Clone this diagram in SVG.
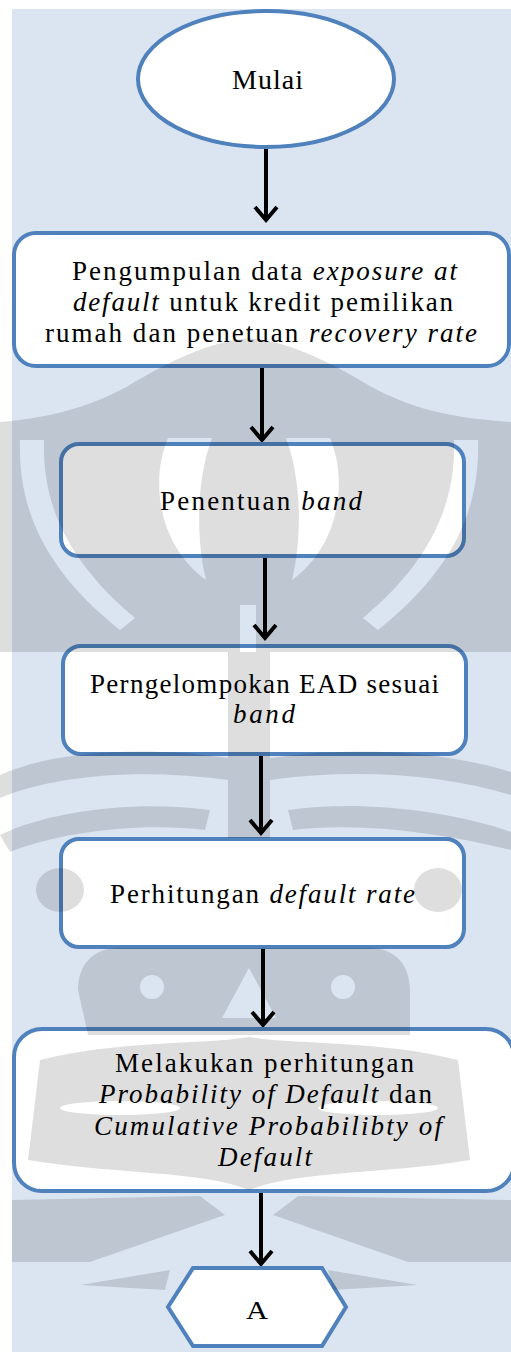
<svg xmlns="http://www.w3.org/2000/svg" width="511" height="1352" viewBox="0 0 511 1352">
  <style>
    .node { fill: #ffffff; stroke: #4f81bd; stroke-width: 4; }
    .t { font-family: "Liberation Serif", serif; font-size: 27px; fill: #000000; }
    .i { font-style: italic; }
    .conn { stroke: #000000; stroke-width: 4; fill: none; }
    .wm { fill: #000000; fill-opacity: 0.13; fill-rule: evenodd; stroke: none; }
  </style>
  <defs>
    <marker id="arrow" markerUnits="userSpaceOnUse" markerWidth="40" markerHeight="40" viewBox="-20 -20 40 40" refX="0" refY="0" orient="auto" overflow="visible">
      <path d="M -13,-11 L 0,0 L -13,11" fill="none" stroke="#000000" stroke-width="4" stroke-linejoin="miter"/>
    </marker>
  </defs>
  <rect x="0" y="0" width="511" height="1352" fill="#ffffff"/>
  <rect x="12" y="9" width="499" height="1343" fill="#dbe5f1"/>

  <g id="connectors">
    <line class="conn" x1="266" y1="147" x2="266" y2="220" marker-end="url(#arrow)"/>
    <line class="conn" x1="262" y1="367" x2="262" y2="440" marker-end="url(#arrow)"/>
    <line class="conn" x1="265" y1="557" x2="265" y2="638" marker-end="url(#arrow)"/>
    <line class="conn" x1="261" y1="755" x2="261" y2="833" marker-end="url(#arrow)"/>
    <line class="conn" x1="263" y1="948" x2="263" y2="1025" marker-end="url(#arrow)"/>
    <line class="conn" x1="261" y1="1192" x2="261" y2="1264" marker-end="url(#arrow)"/>
  </g>

  <g id="mulai">
    <ellipse class="node" cx="266" cy="79" rx="128" ry="68"/>
    <text class="t" x="232" y="89" style="font-size:28px" textLength="71" lengthAdjust="spacing">Mulai</text>
  </g>

  <g id="pengumpulan">
    <rect class="node" x="14" y="233" width="495" height="133" rx="22"/>
    <text class="t" x="72" y="280" textLength="385" lengthAdjust="spacing">Pengumpulan data <tspan class="i">exposure at</tspan></text>
    <text class="t" x="73" y="311" textLength="380" lengthAdjust="spacing"><tspan class="i">default</tspan> untuk kredit pemilikan</text>
    <text class="t" x="45" y="342" textLength="432" lengthAdjust="spacing">rumah dan penetuan <tspan class="i">recovery rate</tspan></text>
  </g>

  <g id="penentuan-band">
    <rect class="node" x="61" y="444" width="403" height="112" rx="18"/>
    <text class="t" x="160" y="510" textLength="202" lengthAdjust="spacing">Penentuan <tspan class="i">band</tspan></text>
  </g>

  <g id="pengelompokan">
    <rect class="node" x="63" y="646" width="403" height="108" rx="18"/>
    <text class="t" x="90" y="693" textLength="349" lengthAdjust="spacing">Perngelompokan EAD sesuai</text>
    <text class="t i" x="233" y="723" textLength="62" lengthAdjust="spacing">band</text>
  </g>

  <g id="default-rate">
    <rect class="node" x="61" y="839" width="403" height="108" rx="18"/>
    <text class="t" x="110" y="903" textLength="305" lengthAdjust="spacing">Perhitungan <tspan class="i">default rate</tspan></text>
  </g>

  <g id="probability">
    <rect class="node" x="14" y="1029" width="500" height="162" rx="28"/>
    <text class="t" x="115" y="1072" textLength="299" lengthAdjust="spacing">Melakukan perhitungan</text>
    <text class="t" x="99" y="1103" textLength="333" lengthAdjust="spacing"><tspan class="i">Probability of Default</tspan> dan</text>
    <text class="t i" x="94" y="1135" textLength="348" lengthAdjust="spacing">Cumulative Probabilibty of</text>
    <text class="t i" x="218" y="1166" textLength="94" lengthAdjust="spacing">Default</text>
  </g>

  <g id="connector-a">
    <polygon class="node" points="193,1268 322,1268 346,1307 322,1346 193,1346 168,1307"/>
    <text class="t" x="246" y="1319" style="font-size:25px" textLength="22" lengthAdjust="spacingAndGlyphs">A</text>
  </g>

  <g id="watermark">
    <path class="wm" d="M 249 338 C 290 342 330 362 370 386 C 410 408 450 418 511 422 L 511 652 L 0 652 L 0 422 C 48 418 88 408 128 386 C 168 362 208 342 249 338 Z
      M 20 440 C 18 510 45 570 120 630 L 135 618 C 68 562 42 505 44 440 Z
      M 478 440 C 480 510 453 570 378 630 L 363 618 C 430 562 456 505 454 440 Z
      M 168 438 C 150 480 158 545 206 580 C 196 540 196 480 212 438 Z
      M 330 438 C 348 480 340 545 292 580 C 302 540 302 480 286 438 Z
      M 240 605 L 256 605 L 256 652 L 240 652 Z"/>
    <path class="wm" d="M 228 652 L 270 652 L 270 838 L 228 838 Z"/>
    <path class="wm" d="M 0 775 C 50 752 140 745 228 758 L 228 780 C 140 768 55 775 0 798 Z"/>
    <path class="wm" d="M 0 835 C 50 810 140 800 210 810 L 205 830 C 140 822 60 832 10 852 Z"/>
    <path class="wm" d="M 511 772 C 448 752 358 745 270 758 L 270 780 C 358 768 443 775 511 795 Z"/>
    <path class="wm" d="M 511 832 C 448 810 358 800 288 810 L 293 830 C 358 822 438 832 511 850 Z"/>
    <ellipse class="wm" cx="60" cy="890" rx="24" ry="22"/>
    <ellipse class="wm" cx="438" cy="890" rx="24" ry="22"/>
    <path class="wm" d="M 118 948 L 370 948 C 395 948 410 965 410 990 L 410 1035 L 88 1035 L 78 990 C 78 965 93 948 118 948 Z
      M 140 987 A 12 12 0 1 0 164 987 A 12 12 0 1 0 140 987 Z
      M 331 987 A 12 12 0 1 0 355 987 A 12 12 0 1 0 331 987 Z
      M 249 968 L 222 1018 L 276 1018 Z"/>
    <path class="wm" d="M 40 1060 C 120 1040 200 1045 249 1037 C 298 1045 378 1040 458 1060 L 470 1160 C 380 1175 300 1170 249 1190 C 198 1170 118 1175 28 1160 Z
      M 60 1108 A 60 7 0 1 0 180 1108 A 60 7 0 1 0 60 1108 Z
      M 318 1108 A 60 7 0 1 0 438 1108 A 60 7 0 1 0 318 1108 Z"/>
    <path class="wm" d="M 12 1200 L 200 1196 L 225 1215 L 90 1262 L 12 1262 Z"/>
    <path class="wm" d="M 511 1200 L 298 1196 L 273 1215 L 408 1262 L 511 1262 Z"/>
    <path class="wm" d="M 80 1285 L 170 1270 L 165 1290 Z"/>
    <path class="wm" d="M 418 1285 L 328 1270 L 333 1290 Z"/>
  </g>
</svg>
